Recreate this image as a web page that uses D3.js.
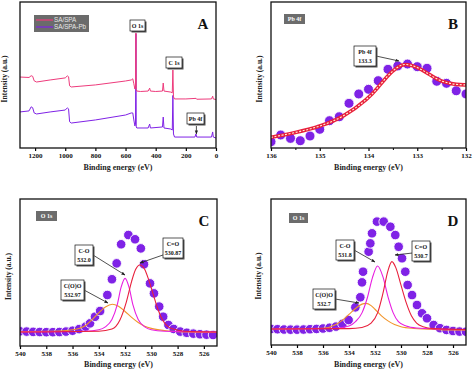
<!DOCTYPE html>
<html>
<head>
<meta charset="utf-8">
<script src="https://cdn.jsdelivr.net/npm/d3@7"></script>
<style>
  body { margin: 0; background: #fff; }
  svg { display: block; }
  text { font-family: "Liberation Serif", "DejaVu Serif", serif; font-weight: bold; }
</style>
</head>
<body>
<svg id="chart" width="474" height="371"></svg>
<script>
// ---- panel A : survey spectra [binding energy, intensity] ----
var surveySA = [[1300,48.6],[1240,48.3],[1226,49.5],[1216,49.1],[1206,46],[1190,45.2],[1100,46.6],[1000,48],[986,49.4],[978,48.8],[971,42.6],[960,41.8],[800,43.2],[600,45.9],[562,46.6],[552,47.4],[545,44],[538,40.4],[534,41.6],[531,78.8],[529,40],[525,39],[500,38.7],[450,39],[440,41],[435,39],[400,38.7],[355,39],[350,44.5],[345,39],[300,38.3],[290,37.8],[286,53.4],[282,35],[275,33.6],[200,33.6],[132,34],[128,33.4],[30,33.6],[22,35.5],[18,33.6],[0,33.2]];
var surveySAPb = [[1300,24.7],[1240,25.4],[1226,28.2],[1216,27.6],[1206,24],[1190,23.3],[1100,24.7],[1000,26],[986,27.5],[978,26.8],[971,18],[960,17.1],[800,19.2],[600,22.6],[562,24],[552,24],[545,19.2],[538,15.1],[534,16.4],[531,78.2],[529,14.4],[525,13.7],[450,13.7],[440,16.4],[435,13.7],[355,14.4],[350,21.2],[345,13.7],[300,13],[290,12.3],[286,36],[282,9.6],[275,7.5],[140,7.5],[133,9.6],[128,7.5],[30,7.5],[22,11],[18,7.5],[0,6.8]];
var surveyNames = ["SA/SPA", "SA/SPA-Pb"];
var surveyTicks = [1200, 1000, 800, 600, 400, 200, 0];

// ---- panel B : Pb 4f ----
var pbEnergy = [136.0,135.8,135.6,135.4,135.2,135.0,134.8,134.6,134.4,134.2,134.0,133.8,133.6,133.4,133.2,133.0,132.8,132.6,132.4,132.2,132.0];
var pbCounts = [4.3,8.9,6.6,5.0,8.2,12.8,18.7,21.4,30.6,37.0,40.2,46.1,53.9,56.2,57.5,55.7,54.6,45.7,44.3,39.2,37.0];
var pbFit = [[136,7.3],[135.5,10.5],[135,14.6],[134.5,21.4],[134,34],[133.8,41.6],[133.6,50],[133.4,55.7],[133.25,58],[133,55.5],[132.8,51.5],[132.6,47],[132.4,44.7],[132.2,43.4],[132,43.2]];
var pbTicks = [136, 135, 134, 133, 132];

// ---- panel C : O 1s SA/SPA ----
var o1sCEnergy = [540,539.5,539,538.5,538,537.5,537,536.5,536,535.5,535,534.67,534.29,533.9,533.35,533.0,532.64,532.3,531.75,531.24,530.8,530.56,530.1,529.8,529.4,529.1,528.7,528.3,527.8,527.3,526.8,526.3,525.8,525.3];
var o1sCCounts = [10,9.8,9.6,9.5,9.4,9.4,9.5,9.8,10.4,11.5,13.2,15.4,19.9,23.8,34.7,45.4,56.2,69.2,75.5,72.6,66.4,55.6,42.6,35.8,26.8,19.9,14.3,11.6,9.8,9,8.4,8,7.7,7.5];
var fitC_COO = [[540,9.8],[537,10.2],[536,11],[535,14],[534.5,18],[534,22.5],[533.5,26.5],[532.97,28.4],[532.5,27],[532,23.5],[531.5,19.5],[531,16],[530.5,13.5],[530,12],[529,10.5],[528,9.8],[525,9.3]];
var fitC_CO = [[540,9.5],[535,10],[534,11],[533.5,13],[533,18],[532.6,28],[532.3,40],[532,46],[531.7,40],[531.4,28],[531,18],[530.5,13],[530,11],[529,10],[525,9.5]];
var fitC_C2O = [[540,9.5],[534,10],[533,11.5],[532.4,17.5],[531.9,30],[531.5,44],[531.2,52],[530.87,55.1],[530.5,52],[530.2,45],[529.85,35],[529.5,25],[529.1,17],[528.7,13],[528.3,11.5],[527.5,10],[525,9.5]];

// ---- panel D : O 1s SA/SPA-Pb ----
var o1sDEnergy = [540,539.5,539,538.5,538,537.5,537,536.5,536,535.5,535,534.5,534.03,533.51,533.13,533.0,532.92,532.49,532.36,532.23,531.85,531.33,530.82,530.44,530.18,529.92,529.67,529.49,529.15,528.77,528.38,528.0,527.49,527,526.5,526,525.5,525];
var o1sDCounts = [11,10.8,10.6,10.5,10.5,10.6,10.8,11,11.3,11.8,12.6,14.5,17.1,25.8,32.7,42.9,50.2,63.9,69.6,76.5,84.5,84.5,81,75.3,67.3,59.4,50.2,41.1,34.2,27.4,21.7,18.3,13.7,11.5,10.3,9.6,9.2,9.1];
var fitD_COO = [[540,11],[536,11.5],[535,14],[534.5,17],[534,21],[533.5,25],[533,28],[532.7,28.5],[532.3,27],[532,24.5],[531.5,20],[531,16.5],[530.5,14],[530,12.5],[529,11.3],[527,10.5],[525,10.2]];
var fitD_CO = [[540,11],[535,11.5],[534,13],[533.5,16],[533,22],[532.6,32],[532.2,46],[531.8,54.1],[531.4,47],[531,33],[530.6,22],[530.2,16],[529.6,13],[528.8,11.6],[527,10.8],[525,10.5]];
var fitD_C2O = [[540,11],[534,11.2],[533,12],[532.3,15],[531.8,22],[531.4,35],[531.0,51],[530.7,57.1],[530.4,53],[530.0,41],[529.6,29],[529.2,20],[528.8,15],[528.3,12.5],[527.5,11.2],[525,10.6]];
var o1sTicks = [540, 538, 536, 534, 532, 530, 528, 526];

var colPink = "#ee3b7c", colPurple = "#7f22e6", colRed = "#e8203c",
    colMagenta = "#e81ee0", colOrange = "#f2952b";

var svg = d3.select("#chart");

svg.append("defs").append("marker").attr("id", "arrow").attr("viewBox", "0 0 10 10")
  .attr("refX", 9).attr("refY", 5).attr("markerWidth", 5).attr("markerHeight", 5).attr("orient", "auto")
  .append("path").attr("d", "M0,1L10,5L0,9z").attr("fill", "#222");

function panel(box, xDomain, ticks, letter) {
  var x = d3.scaleLinear().domain(xDomain).range([box.l, box.r]);
  var y = d3.scaleLinear().domain([0, 100]).range([box.b, box.t]);
  var g = svg.append("g");
  var clipId = "clip" + letter;
  svg.append("clipPath").attr("id", clipId).append("rect")
    .attr("x", box.l).attr("y", box.t).attr("width", box.r - box.l).attr("height", box.b - box.t);
  var plot = g.append("g").attr("clip-path", "url(#" + clipId + ")");
  var ax = g.append("g").attr("transform", "translate(0," + box.b + ")")
    .call(d3.axisBottom(x).tickValues(ticks).tickSize(3).tickSizeOuter(0).tickPadding(2).tickFormat(d3.format("d")));
  ax.select(".domain").remove();
  ax.selectAll("line").attr("stroke", "#000").attr("stroke-width", 1.2);
  ax.selectAll("text").attr("font-size", 7).attr("fill", "#111");
  return { x: x, y: y, g: g, plot: plot, box: box, letter: letter };
}

function frame(p, titleY, ylabX) {
  var b = p.box;
  p.g.append("rect").attr("x", b.l).attr("y", b.t).attr("width", b.r - b.l).attr("height", b.b - b.t)
    .attr("fill", "none").attr("stroke", "#111").attr("stroke-width", 1.3);
  p.g.append("text").attr("x", (b.l + b.r) / 2).attr("y", titleY).attr("text-anchor", "middle")
    .attr("font-size", 8).attr("fill", "#222").text("Binding energy (eV)");
  p.g.append("text").attr("transform", "translate(" + ylabX + "," + ((b.t + b.b) / 2 + 4) + ") rotate(-90)")
    .attr("text-anchor", "middle").attr("font-size", 7.5).attr("fill", "#222").text("Intensity (a.u.)");
  p.g.append("text").attr("x", b.r - 13).attr("y", b.t + 27).attr("text-anchor", "middle")
    .attr("font-size", 15).attr("fill", "#111").text(p.letter);
}

function tag(p, x, y, w, txt) {
  p.g.append("rect").attr("x", x).attr("y", y).attr("width", w).attr("height", 10).attr("fill", "#6c6c6c");
  p.g.append("text").attr("x", x + w / 2).attr("y", y + 7.3).attr("text-anchor", "middle")
    .attr("font-size", 6).attr("fill", "#fff").text(txt);
}

function callout(p, x, y, lines, w, tx, ty) {
  var h = lines.length * 9 + 2;
  if (tx != null) {
    p.g.append("line").attr("x1", x + w).attr("y1", y + h / 2).attr("x2", tx).attr("y2", ty)
      .attr("stroke", "#222").attr("stroke-width", 0.8).attr("marker-end", "url(#arrow)");
  }
  p.g.append("rect").attr("x", x + 1.5).attr("y", y + 1.5).attr("width", w).attr("height", h).attr("fill", "#555");
  p.g.append("rect").attr("x", x).attr("y", y).attr("width", w).attr("height", h)
    .attr("fill", "#fff").attr("stroke", "#111").attr("stroke-width", 0.7);
  lines.forEach(function (s, i) {
    p.g.append("text").attr("x", x + w / 2).attr("y", y + 7.5 + i * 9).attr("text-anchor", "middle")
      .attr("font-size", 6).attr("fill", "#111").text(s);
  });
}

function linePath(p, data, color, width, curve) {
  var ln = d3.line().x(function (d) { return p.x(d[0]); }).y(function (d) { return p.y(d[1]); })
    .curve(curve || d3.curveMonotoneX);
  return p.plot.append("path").datum(data).attr("d", ln).attr("fill", "none")
    .attr("stroke", color).attr("stroke-width", width);
}

function dots(p, xs, ys, r) {
  p.plot.selectAll(null).data(xs).enter().append("circle")
    .attr("cx", function (d) { return p.x(d); })
    .attr("cy", function (d, i) { return p.y(ys[i]); })
    .attr("r", r).attr("fill", colPurple).attr("stroke", "#fff").attr("stroke-width", 0.9);
}

// ---- A ----
var pA = panel({ l: 20, r: 216, t: 2, b: 148 }, [1300, 0], surveyTicks, "A");
linePath(pA, surveySAPb, colPurple, 1, d3.curveLinear);
linePath(pA, surveySA, colPink, 1, d3.curveLinear);
frame(pA, 170, 7);
var lg = pA.g.append("g");
lg.append("rect").attr("x", 34).attr("y", 15).attr("width", 55).attr("height", 17).attr("fill", "#6b6b6b");
[colPink, colPurple].forEach(function (c, i) {
  lg.append("line").attr("x1", 36).attr("x2", 53).attr("y1", 20 + i * 7).attr("y2", 20 + i * 7)
    .attr("stroke", c).attr("stroke-width", 1.2);
  lg.append("text").attr("x", 54).attr("y", 22.3 + i * 7)
    .style("font-family", "'Liberation Sans', Arial, sans-serif").style("font-weight", "normal")
    .style("font-size", "6.3px").attr("fill", "#e8e8e8").text(surveyNames[i]);
});
callout(pA, 130, 20, ["O 1s"], 15);
callout(pA, 166, 57, ["C 1s"], 16);
callout(pA, 187, 113, ["Pb 4f"], 17);
pA.g.append("line").attr("x1", pA.x(130)).attr("x2", pA.x(130)).attr("y1", 126).attr("y2", 134)
  .attr("stroke", "#222").attr("stroke-width", 0.8).attr("marker-end", "url(#arrow)");

// ---- B ----
var pB = panel({ l: 271, r: 466, t: 2, b: 148 }, [136, 132], pbTicks, "B");
pB.g.append("g").attr("transform", "translate(0," + 148 + ")")
  .call(d3.axisBottom(pB.x).tickValues([135.5, 134.5, 133.5, 132.5]).tickSize(2).tickFormat(""))
  .call(function (s) { s.select(".domain").remove(); });
dots(pB, pbEnergy, pbCounts, 5);
linePath(pB, pbFit, colRed, 3.6, d3.curveBasis);
linePath(pB, pbFit, "#fff6d8", 1.1, d3.curveBasis).attr("stroke-dasharray", "2,1.6");
frame(pB, 170, 262);
tag(pB, 284, 14, 21, "Pb 4f");
callout(pB, 354, 46, ["Pb 4f", "133.3"], 22, 399, 61);

// ---- C ----
var pC = panel({ l: 20, r: 217, t: 199, b: 346 }, [540, 525], o1sTicks, "C");
dots(pC, o1sCEnergy, o1sCCounts, 4.8);
linePath(pC, fitC_COO, colOrange, 1.1);
linePath(pC, fitC_CO, colMagenta, 1.1);
linePath(pC, fitC_C2O, colRed, 1.1);
frame(pC, 367, 11);
tag(pC, 36, 211, 21, "O 1s");
callout(pC, 75, 245, ["C-O", "532.0"], 18, 125, 275);
callout(pC, 163, 238, ["C=O", "530.87"], 20, 140, 263);
callout(pC, 61, 280, ["C(O)O", "532.97"], 23, 108, 303);

// ---- D ----
var pD = panel({ l: 271, r: 466, t: 199, b: 345 }, [540, 525], o1sTicks, "D");
dots(pD, o1sDEnergy, o1sDCounts, 4.8);
linePath(pD, fitD_COO, colOrange, 1.1);
linePath(pD, fitD_CO, colMagenta, 1.1);
linePath(pD, fitD_C2O, colRed, 1.1);
frame(pD, 367, 261);
tag(pD, 289, 213, 19, "O 1s");
callout(pD, 336, 240, ["C-O", "531.8"], 18, 375, 262);
callout(pD, 412, 241, ["C=O", "530.7"], 18, 395, 255);
callout(pD, 313, 289, ["C(O)O", "532.7"], 22, 359, 303);
</script>
</body>
</html>
